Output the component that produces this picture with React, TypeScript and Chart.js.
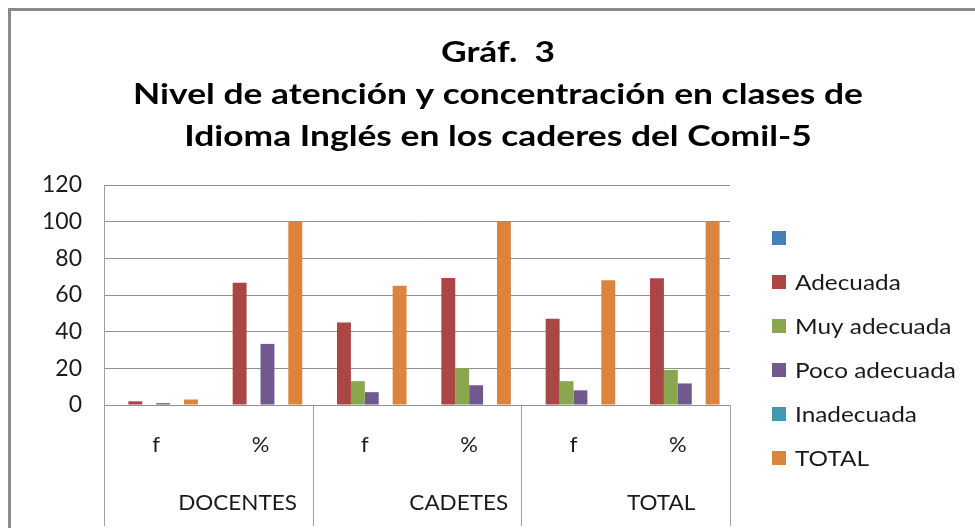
import React, { useEffect, useRef } from "react";
import { Chart, registerables } from "chart.js";

Chart.register(...registerables);

const categories = ["f", "%", "f", "%", "f", "%"];
const groups = ["DOCENTES", "CADETES", "TOTAL"];
const titleLines = [
  "Gráf.  3",
  "Nivel de atención y concentración en clases de",
  "Idioma Inglés en los caderes del Comil-5",
];
const yTicks = [0, 20, 40, 60, 80, 100, 120];

const seriesNames = ["", "Adecuada", "Muy adecuada", "Poco adecuada", "Inadecuada", "TOTAL"];
const blankValues = [0, 0, 0, 0, 0, 0];
const adecuadaValues = [2, 66.67, 45, 69.23, 47, 69.12];
const muyAdecuadaValues = [0, 0, 13, 20, 13, 19.12];
const pocoAdecuadaValues = [1, 33.33, 7, 10.77, 8, 11.76];
const inadecuadaValues = [0, 0, 0, 0, 0, 0];
const totalValues = [3, 100, 65, 100, 68, 100];
const seriesColors = ["#4A7EBB", "#AA4644", "#8AA750", "#71588F", "#4198AF", "#DB843D"];

const FONT = "Lato";

function stretchedText(ctx: CanvasRenderingContext2D, text: string, x: number, y: number, sx: number) {
  ctx.save();
  ctx.translate(x, y);
  ctx.scale(sx, 1);
  ctx.fillText(text, 0, 0);
  ctx.restore();
}

const framePlugin = {
  id: "frame",
  beforeDraw(chart: any) {
    const ctx = chart.ctx;
    ctx.save();
    ctx.fillStyle = "#ffffff";
    ctx.fillRect(0, 0, chart.width, chart.height);
    ctx.strokeStyle = "#8a8a8a";
    ctx.lineWidth = 3;
    ctx.strokeRect(9.5, 9.5, chart.width + 20, chart.height + 20);
    ctx.restore();
  },
  afterDraw(chart: any) {
    const ctx = chart.ctx;
    const area = chart.chartArea;
    const x = chart.scales.x;
    ctx.save();
    // title
    ctx.fillStyle = "#000000";
    ctx.textAlign = "center";
    ctx.textBaseline = "middle";
    ctx.font = `bold 29px ${FONT}`;
    titleLines.forEach((t, i) => stretchedText(ctx, t, 498, 53 + i * 42, 1.22));

    // group separators and labels
    const n = categories.length;
    const catW = (area.right - area.left) / n;
    ctx.strokeStyle = "#a0a0a0";
    ctx.lineWidth = 1;
    for (let g = 0; g <= groups.length; g++) {
      const px = Math.round(area.left + g * 2 * catW) + 0.5;
      ctx.beginPath();
      ctx.moveTo(px, g === 0 ? area.top : area.bottom);
      ctx.lineTo(px, chart.height - 2);
      ctx.stroke();
    }
    ctx.font = `21px ${FONT}`;
    ctx.fillStyle = "#1a1a1a";
    const groupShift = [0.14, 0.2, 0.17];
    groups.forEach((gname, g) => {
      const cx = (x.getPixelForValue(2 * g) + x.getPixelForValue(2 * g + 1)) / 2 + groupShift[g] * 2 * catW;
      stretchedText(ctx, gname, cx, 503, 1.07);
    });

    // legend
    ctx.textAlign = "left";
    chart.data.datasets.forEach((ds: any, i: number) => {
      const cy = 238 + i * 44;
      ctx.fillStyle = ds.backgroundColor;
      ctx.fillRect(772, cy - 7, 14, 14);
      ctx.fillStyle = "#1a1a1a";
      stretchedText(ctx, ds.label, 795, cy + 1, 1.16);
    });
    ctx.restore();
  },
};

export default function App() {
  const ref = useRef<HTMLCanvasElement>(null);
  useEffect(() => {
    document.body.style.margin = "0";
    const valueLists = [blankValues, adecuadaValues, muyAdecuadaValues, pocoAdecuadaValues, inadecuadaValues, totalValues];
    const chart = new Chart(ref.current as HTMLCanvasElement, {
      type: "bar",
      data: {
        labels: categories,
        datasets: seriesNames.map((name, i) => ({
          label: name,
          data: valueLists[i],
          backgroundColor: seriesColors[i],
          borderWidth: 0,
          categoryPercentage: 0.8,
          barPercentage: 1.0,
        })),
      },
      options: {
        animation: false,
        responsive: false,
        maintainAspectRatio: false,
        layout: { padding: { top: 185, left: 0, right: 245, bottom: 0 } },
        plugins: {
          legend: { display: false },
          title: { display: false },
          tooltip: { enabled: false },
        },
        scales: {
          x: {
            grid: { display: false, drawTicks: false },
            border: { display: false },
            ticks: {
              color: "#1a1a1a",
              font: { family: FONT, size: 22 },
              padding: 27,
              maxRotation: 0,
            },
            afterFit(scale: any) {
              scale.height = 123;
            },
          },
          y: {
            min: 0,
            max: 120,
            afterBuildTicks(scale: any) {
              scale.ticks = yTicks.map((v) => ({ value: v }));
            },
            grid: { color: "#8f8f8f", lineWidth: 1, drawTicks: false },
            border: { display: true, color: "#a0a0a0" },
            ticks: {
              color: "#1a1a1a",
              font: { family: FONT, size: 23 },
              padding: 22,
            },
            afterFit(scale: any) {
              scale.width = 104;
            },
          },
        },
      },
      plugins: [framePlugin],
    });
    return () => chart.destroy();
  }, []);
  return <canvas ref={ref} width={975} height={528} style={{ display: "block" }} />;
}
